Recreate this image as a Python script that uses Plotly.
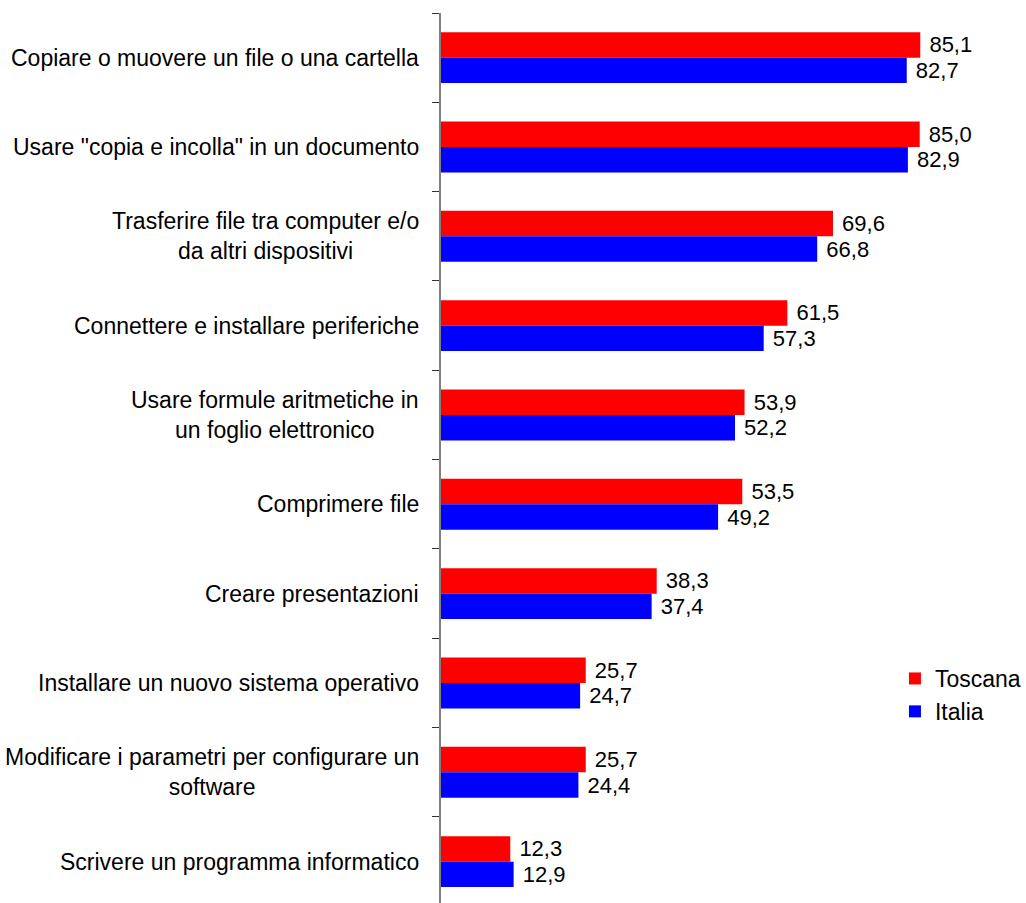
import plotly.graph_objects as go

categories = [
    "Copiare o muovere un file o una cartella",
    "Usare \"copia e incolla\" in un documento",
    "Trasferire file tra computer e/o<br>da altri dispositivi",
    "Connettere e installare periferiche",
    "Usare formule aritmetiche in<br>un foglio elettronico",
    "Comprimere file",
    "Creare presentazioni",
    "Installare un nuovo sistema operativo",
    "Modificare i parametri per configurare un<br>software",
    "Scrivere un programma informatico",
]
toscana = [85.1, 85.0, 69.6, 61.5, 53.9, 53.5, 38.3, 25.7, 25.7, 12.3]
italia = [82.7, 82.9, 66.8, 57.3, 52.2, 49.2, 37.4, 24.7, 24.4, 12.9]

FONT = "Liberation Sans, Arial, sans-serif"
cat_ids = [f"c{i}" for i in range(len(categories))]

fig = go.Figure()
fig.add_trace(go.Bar(
    y=cat_ids, x=toscana, name="Toscana", orientation="h",
    marker=dict(color="#FF0000", line=dict(width=0)),
    texttemplate=" %{x:.1f}", textposition="outside",
    textfont=dict(family=FONT, size=22, color="#000000"),
    cliponaxis=False, legendgroup="t",
))
fig.add_trace(go.Bar(
    y=cat_ids, x=italia, name="Italia", orientation="h",
    marker=dict(color="#0000FF", line=dict(width=0)),
    texttemplate=" %{x:.1f}", textposition="outside",
    textfont=dict(family=FONT, size=22, color="#000000"),
    cliponaxis=False, legendgroup="i",
))

for cid, label in zip(cat_ids, categories):
    fig.add_annotation(
        x=0, xref="paper", y=cid, yref="y",
        text=label, showarrow=False, xanchor="right", yanchor="middle",
        xshift=-20, align="center",
        font=dict(family=FONT, size=23, color="#000000"),
    )

fig.update_layout(
    width=1026, height=903,
    margin=dict(l=441, r=26, t=13, b=0),
    paper_bgcolor="white", plot_bgcolor="white",
    barmode="group", bargap=0.43, bargroupgap=0,
    separators=",.",
    showlegend=True,
    legend=dict(
        x=0.815, y=0.2337, xanchor="left", yanchor="middle",
        font=dict(family=FONT, size=23, color="#000000"),
        tracegroupgap=14, bgcolor="rgba(0,0,0,0)", traceorder="normal",
        borderwidth=0,
    ),
    xaxis=dict(range=[0, 98.9], visible=False, showgrid=False, zeroline=False),
    yaxis=dict(
        type="category", categoryorder="array", categoryarray=cat_ids,
        range=[9.463, -0.5], showticklabels=False, tickson="boundaries",
        ticks="outside", ticklen=7, tickwidth=1, tickcolor="#333333",
        showline=True, linecolor="#808080", linewidth=2,
        showgrid=False, zeroline=False,
    ),
)

fig.write_html(
    "out.html",
    config={"displayModeBar": False},
    post_script="document.body.style.margin='0';document.body.style.overflow='hidden';",
)
